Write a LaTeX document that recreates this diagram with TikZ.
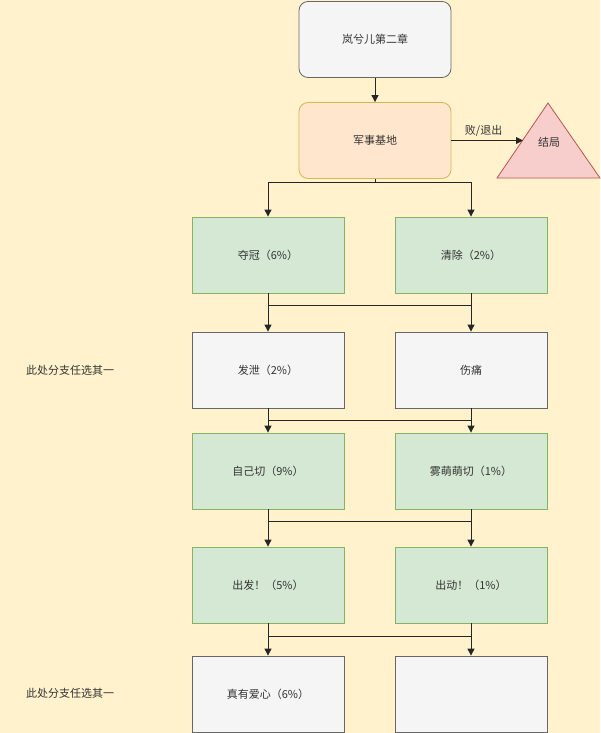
\documentclass[tikz,border=0pt]{standalone}
\usepackage{fontspec}
\setmainfont{Noto Sans CJK SC}
\usetikzlibrary{shapes.geometric,arrows.meta}
\definecolor{bg}{HTML}{FFF2CC}
\definecolor{grayf}{HTML}{F5F5F5}
\definecolor{grayd}{HTML}{666666}
\definecolor{orf}{HTML}{FFE6CC}
\definecolor{ord}{HTML}{D6B656}
\definecolor{grf}{HTML}{D5E8D4}
\definecolor{grd}{HTML}{82B366}
\definecolor{rdf}{HTML}{F8CECC}
\definecolor{rdd}{HTML}{B85450}
\begin{document}
\begin{tikzpicture}[x=1pt,y=-1pt,
  box/.style={draw,line width=0.8pt,minimum width=152pt,minimum height=76pt,inner sep=0pt,font=\fontsize{11}{13}\selectfont,text=black!80},
  graybox/.style={box,fill=grayf,draw=grayd},
  greenbox/.style={box,fill=grf,draw=grd},
  conn/.style={draw=black!85,line width=0.9pt},
  arr/.style={conn,-{Triangle[length=7pt,width=7pt]}},
  side/.style={font=\fontsize{11}{13}\selectfont,text=black!80}]
\fill[bg] (0,0) rectangle (600,733);
\useasboundingbox (0,0) rectangle (600,733);
\node[graybox,rounded corners=9pt] (top) at (375,39.5) {岚兮儿第二章};
\node[box,rounded corners=9pt,fill=orf,draw=ord] (base) at (375,140.5) {军事基地};
\draw[draw=rdd,fill=rdf,line width=0.8pt] (548,103) -- (600,178) -- (497,178) -- cycle;
\node[font=\fontsize{11}{13}\selectfont,text=black!80] (end) at (549,142) {结局};
\coordinate (endw) at (523,140.5);
\draw[arr] (top) -- (base);
\draw[arr] (base.east) -- node[above,font=\fontsize{11}{13}\selectfont,text=black!80,pos=0.45]{败/退出} (endw);
\node[greenbox] (a1) at (268,255) {夺冠（6\%）};
\node[greenbox] (b1) at (471,255) {清除（2\%）};
\node[graybox] (a2) at (268,370) {发泄（2\%）};
\node[graybox] (b2) at (471,370) {伤痛};
\node[greenbox] (a3) at (268,471) {自己切（9\%）};
\node[greenbox] (b3) at (471,471) {雾萌萌切（1\%）};
\node[greenbox] (a4) at (268,585) {出发！（5\%）};
\node[greenbox] (b4) at (471,585) {出动！（1\%）};
\node[graybox] (a5) at (268,694) {真有爱心（6\%）};
\node[graybox] (b5) at (471,694) {};
\node[side] (s1) at (70,370) {此处分支任选其一};
\node[side] (s2) at (70,693) {此处分支任选其一};
\coordinate (j0) at (375,182);
\coordinate (j0a) at (268,182);
\coordinate (j0b) at (471,182);
\draw[conn] (base.south) -- (j0);
\draw[conn] (j0a) -- (j0b);
\draw[arr] (j0a) -- (a1.north);
\draw[arr] (j0b) -- (b1.north);
\foreach \u/\l/\d/\e/\y in {a1/b1/a2/b2/305, a2/b2/a3/b3/420, a3/b3/a4/b4/521, a4/b4/a5/b5/636}{
  \coordinate (L) at (268,\y);
  \coordinate (R) at (471,\y);
  \draw[conn] (\u.south) -- (L) -- (R);
  \draw[conn] (\l.south) -- (R);
  \draw[arr] (L) -- (\d.north);
  \draw[arr] (R) -- (\e.north);
}
\end{tikzpicture}
\end{document}
